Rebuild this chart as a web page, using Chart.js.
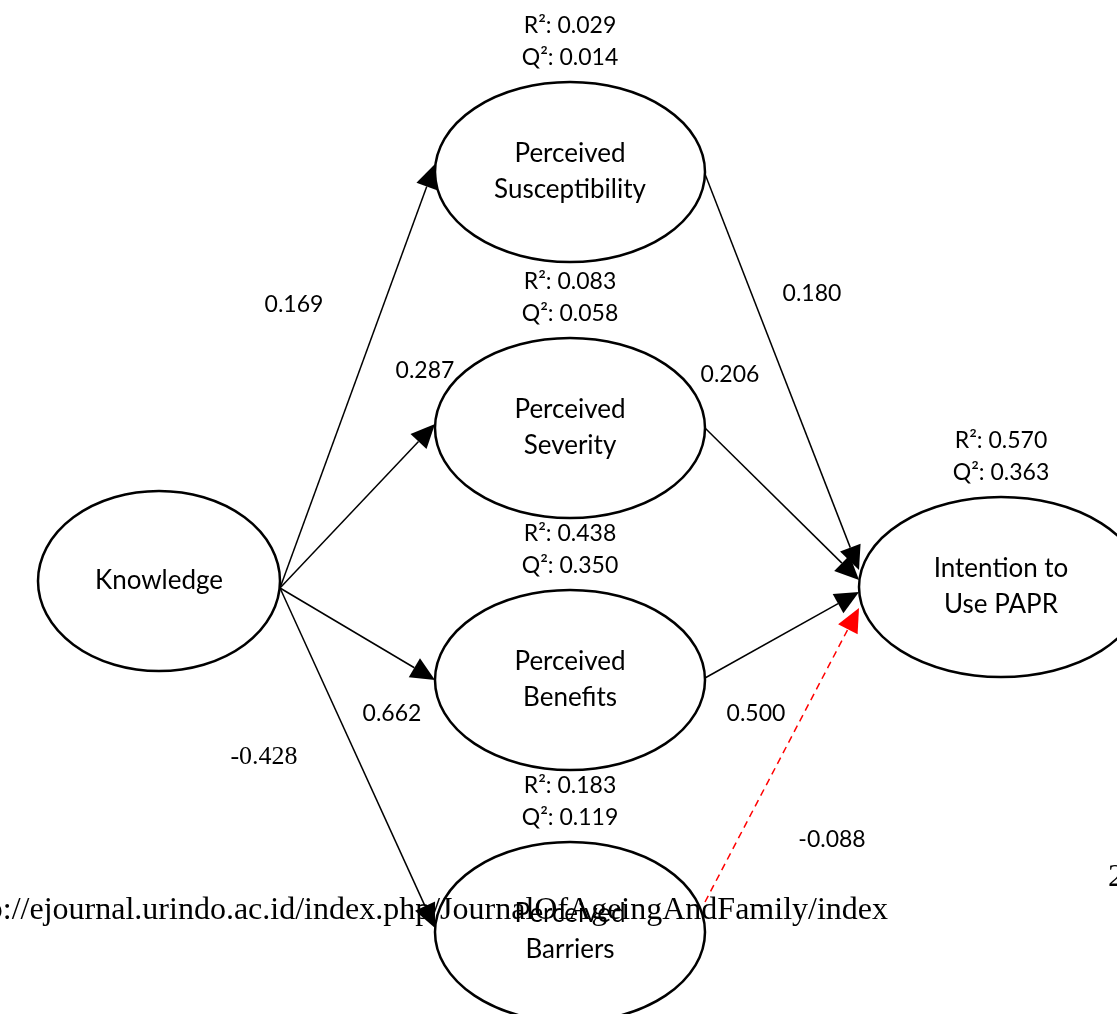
<!DOCTYPE html>
<html>
<head>
<meta charset="utf-8">
<script src="https://cdn.jsdelivr.net/npm/chart.js@4.4.1/dist/chart.umd.min.js"></script>
<style>
  html, body { margin: 0; padding: 0; background: #fff; overflow: hidden; }
  #wrap { width: 1117px; height: 1014px; }
</style>
</head>
<body>
<div id="wrap"><canvas id="chartPath" width="1117" height="1014"></canvas></div>
<script>
// Constructos del modelo
const nodeNames = ['Knowledge', 'Perceived\nSusceptibility', 'Perceived\nSeverity', 'Perceived\nBenefits', 'Perceived\nBarriers', 'Intention to\nUse PAPR'];
const rSquared = [null, '0.029', '0.083', '0.438', '0.183', '0.570'];
const qSquared = [null, '0.014', '0.058', '0.350', '0.119', '0.363'];

// Relaciones (desde, hacia, coeficiente)
const edgeFrom = [0, 0, 0, 0, 1, 2, 3, 4];
const edgeTo = [1, 2, 3, 4, 5, 5, 5, 5];
const edgeCoef = ['0.169', '0.287', '0.662', '-0.428', '0.180', '0.206', '0.500', '-0.088'];

// Posicion de cada nodo en el lienzo (coordenadas de la escala)
const nodeX = [159, 570, 570, 570, 570, 1001];
const nodeY = [581, 172, 428, 680, 932, 587];
const nodeRX = [121, 135, 135, 135, 135, 142];
const nodeRY = [90, 90, 90, 90, 90, 90];

// Donde sale/llega cada flecha respecto al centro (dy) y donde va su etiqueta
const edgeStartDy = [7, 7, 7, 7, 2, 0, -2, -30];
const edgeEndDy = [-8, -4, 0, -4, -17, -7, 5, 21];
const labelX = [294, 425, 392, 264, 812, 730, 756, 832];
const labelY = [305, 371, 714, 757, 294, 375, 714, 840];
const dashedEdge = [false, false, false, false, false, false, false, true];
const serifLabel = [false, false, false, true, false, false, false, false];

const sansFont = 'Lato, "Open Sans", sans-serif';
const serifFont = '"Liberation Serif", "DejaVu Serif", serif';

const pathPlugin = {
    id: 'pathDiagram',
    afterDatasetsDraw(chart) {
        const ctx = chart.ctx;
        const sx = chart.scales.x;
        const sy = chart.scales.y;
        const px = v => sx.getPixelForValue(v);
        const py = v => sy.getPixelForValue(v);
        const kx = Math.abs(px(1) - px(0));
        const ky = Math.abs(py(1) - py(0));

        ctx.save();

        // Flechas
        edgeFrom.forEach((f, i) => {
            const t = edgeTo[i];
            const x1 = px(nodeX[f] + nodeRX[f]);
            const y1 = py(nodeY[f] + edgeStartDy[i]);
            const x2 = px(nodeX[t] - nodeRX[t]);
            const y2 = py(nodeY[t] + edgeEndDy[i]);
            const color = dashedEdge[i] ? '#ff0000' : '#000000';
            const ang = Math.atan2(y2 - y1, x2 - x1);
            const headLen = 24, headW = 11;
            const bx = x2 - headLen * Math.cos(ang);
            const by = y2 - headLen * Math.sin(ang);

            ctx.strokeStyle = color;
            ctx.lineWidth = 1.5;
            ctx.setLineDash(dashedEdge[i] ? [7, 5] : []);
            ctx.beginPath();
            ctx.moveTo(x1, y1);
            ctx.lineTo(bx, by);
            ctx.stroke();
            ctx.setLineDash([]);

            ctx.fillStyle = color;
            ctx.beginPath();
            ctx.moveTo(x2, y2);
            ctx.lineTo(bx + headW * Math.sin(ang), by - headW * Math.cos(ang));
            ctx.lineTo(bx - headW * Math.sin(ang), by + headW * Math.cos(ang));
            ctx.closePath();
            ctx.fill();

            ctx.font = (serifLabel[i] ? '26px ' + serifFont : '23px ' + sansFont);
            ctx.textAlign = 'center';
            ctx.textBaseline = 'middle';
            ctx.fillStyle = '#000';
            ctx.fillText(edgeCoef[i], px(labelX[i]), py(labelY[i]));
        });

        // Elipses y textos
        nodeNames.forEach((name, i) => {
            const cx = px(nodeX[i]);
            const cy = py(nodeY[i]);
            ctx.strokeStyle = '#000';
            ctx.lineWidth = 2.5;
            ctx.beginPath();
            ctx.ellipse(cx, cy, nodeRX[i] * kx, nodeRY[i] * ky, 0, 0, Math.PI * 2);
            ctx.stroke();

            ctx.fillStyle = '#000';
            ctx.font = '26px ' + sansFont;
            ctx.textAlign = 'center';
            ctx.textBaseline = 'middle';
            const lines = name.split('\n');
            lines.forEach((ln, j) => {
                ctx.fillText(ln, cx, cy + (j - (lines.length - 1) / 2) * 36);
            });

            if (rSquared[i] !== null) {
                const top = cy - nodeRY[i] * ky;
                ctx.font = '23px ' + sansFont;
                ctx.fillText('R\u00b2: ' + rSquared[i], cx, top - 56);
                ctx.fillText('Q\u00b2: ' + qSquared[i], cx, top - 24);
            }
        });

        // Pie de pagina de la revista superpuesto
        ctx.font = '32px ' + serifFont;
        ctx.textAlign = 'right';
        ctx.textBaseline = 'middle';
        ctx.fillText('http://ejournal.urindo.ac.id/index.php/JournalOfAgeingAndFamily/index', px(888), py(911));
        ctx.textAlign = 'left';
        ctx.fillText('2', px(1108), py(878));

        ctx.restore();
    }
};

new Chart(document.getElementById('chartPath'), {
    type: 'scatter',
    data: {
        datasets: [{
            label: 'Constructos',
            data: nodeX.map((x, i) => ({ x: x, y: nodeY[i] })),
            pointRadius: 0,
            pointHoverRadius: 0
        }]
    },
    options: {
        responsive: false,
        animation: false,
        layout: { padding: 0 },
        scales: {
            x: { type: 'linear', min: 0, max: 1117, display: false },
            y: { type: 'linear', min: 0, max: 1014, reverse: true, display: false }
        },
        plugins: {
            legend: { display: false },
            tooltip: { enabled: false }
        }
    },
    plugins: [pathPlugin]
});
</script>
</body>
</html>
